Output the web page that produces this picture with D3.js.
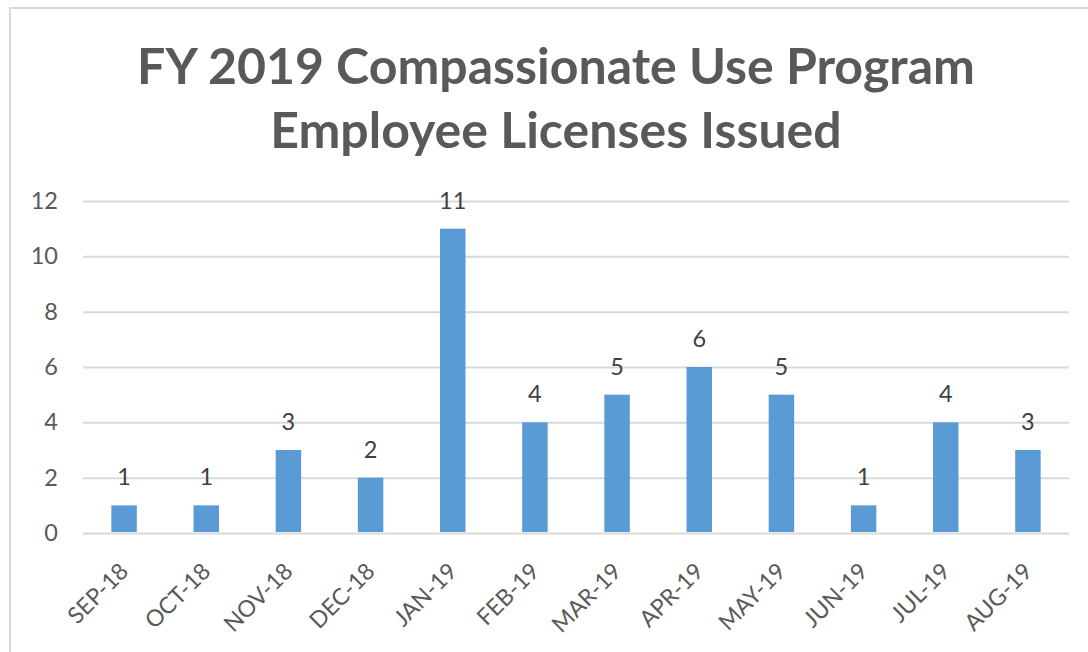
<!DOCTYPE html>
<html>
<head>
<meta charset="utf-8">
<script src="https://cdn.jsdelivr.net/npm/d3@7"></script>
<style>
  body { margin: 0; background: #fff; }
  text { font-family: Lato, "Open Sans", sans-serif; fill: #595959; }
</style>
</head>
<body>
<div id="chart"></div>
<script>
// Chart data
var months = ["SEP-18", "OCT-18", "NOV-18", "DEC-18", "JAN-19", "FEB-19",
              "MAR-19", "APR-19", "MAY-19", "JUN-19", "JUL-19", "AUG-19"];
var licenses = [1, 1, 3, 2, 11, 4, 5, 6, 5, 1, 4, 3];
var yTicks = [0, 2, 4, 6, 8, 10, 12];
var titleLines = ["FY 2019 Compassionate Use Program", "Employee Licenses Issued"];

var svgWidth = 1088;
var svgHeight = 652;

var margin = { top: 201, right: 19, bottom: 119, left: 83 };
var width = svgWidth - margin.left - margin.right;
var height = svgHeight - margin.top - margin.bottom;

var svg = d3.select("#chart")
  .append("svg")
  .attr("width", svgWidth)
  .attr("height", svgHeight);

// chart frame
svg.append("rect")
  .attr("x", 10)
  .attr("y", 8)
  .attr("width", 1100)
  .attr("height", 700)
  .attr("fill", "none")
  .attr("stroke", "#d9d9d9")
  .attr("stroke-width", 2);

// title
var title = svg.append("g");
title.selectAll("text")
  .data(titleLines)
  .enter()
  .append("text")
  .attr("x", 556)
  .attr("y", (d, i) => 84 + i * 64)
  .attr("text-anchor", "middle")
  .style("font-size", "50px")
  .style("font-weight", "bold")
  .text(d => d);

// fit the first line to the width seen in the reference
var first = title.select("text").node();
var scale = 838 / first.getComputedTextLength();
title.selectAll("text").style("font-size", (50 * scale) + "px");

var chartGroup = svg.append("g")
  .attr("transform", `translate(${margin.left}, ${margin.top})`);

var xScale = d3.scaleBand()
  .domain(months)
  .range([0, width])
  .paddingInner(0.69)
  .paddingOuter(0.345);

var yScale = d3.scaleLinear()
  .domain([0, 12])
  .range([height, 0]);

// gridlines
var leftAxis = d3.axisLeft(yScale)
  .tickValues(yTicks)
  .tickSize(-width)
  .tickPadding(8);

var yAxis = chartGroup.append("g").call(leftAxis);
yAxis.select(".domain").remove();
yAxis.selectAll(".tick line")
  .attr("stroke", "#d9d9d9")
  .attr("stroke-width", 2);
yAxis.selectAll(".tick text")
  .attr("x", -25)
  .style("font-size", "23.5px")
  .style("font-family", "Lato, sans-serif")
  .attr("fill", "#595959");

// bars
chartGroup.selectAll("rect.bar")
  .data(licenses)
  .enter()
  .append("rect")
  .attr("class", "bar")
  .attr("x", (d, i) => xScale(months[i]))
  .attr("y", d => yScale(d))
  .attr("width", xScale.bandwidth())
  .attr("height", d => height - 1 - yScale(d))
  .attr("fill", "#5b9bd5");

// value labels
chartGroup.selectAll("text.value")
  .data(licenses)
  .enter()
  .append("text")
  .attr("class", "value")
  .attr("x", (d, i) => xScale(months[i]) + xScale.bandwidth() / 2)
  .attr("y", d => yScale(d) - 20)
  .attr("text-anchor", "middle")
  .style("font-size", "23.5px")
  .style("fill", "#404040")
  .text(d => d);

// x labels
var bottomAxis = d3.axisBottom(xScale).tickSize(0);
var xAxis = chartGroup.append("g")
  .attr("transform", `translate(0, ${height})`)
  .call(bottomAxis);
xAxis.select(".domain").remove();
xAxis.selectAll(".tick text")
  .attr("x", 0)
  .attr("y", 0)
  .attr("dy", "0.35em")
  .attr("text-anchor", "end")
  .attr("transform", "translate(0, 34) rotate(-45)")
  .style("font-size", "23px")
  .style("font-family", "Lato, sans-serif")
  .attr("fill", "#595959");
</script>
</body>
</html>
